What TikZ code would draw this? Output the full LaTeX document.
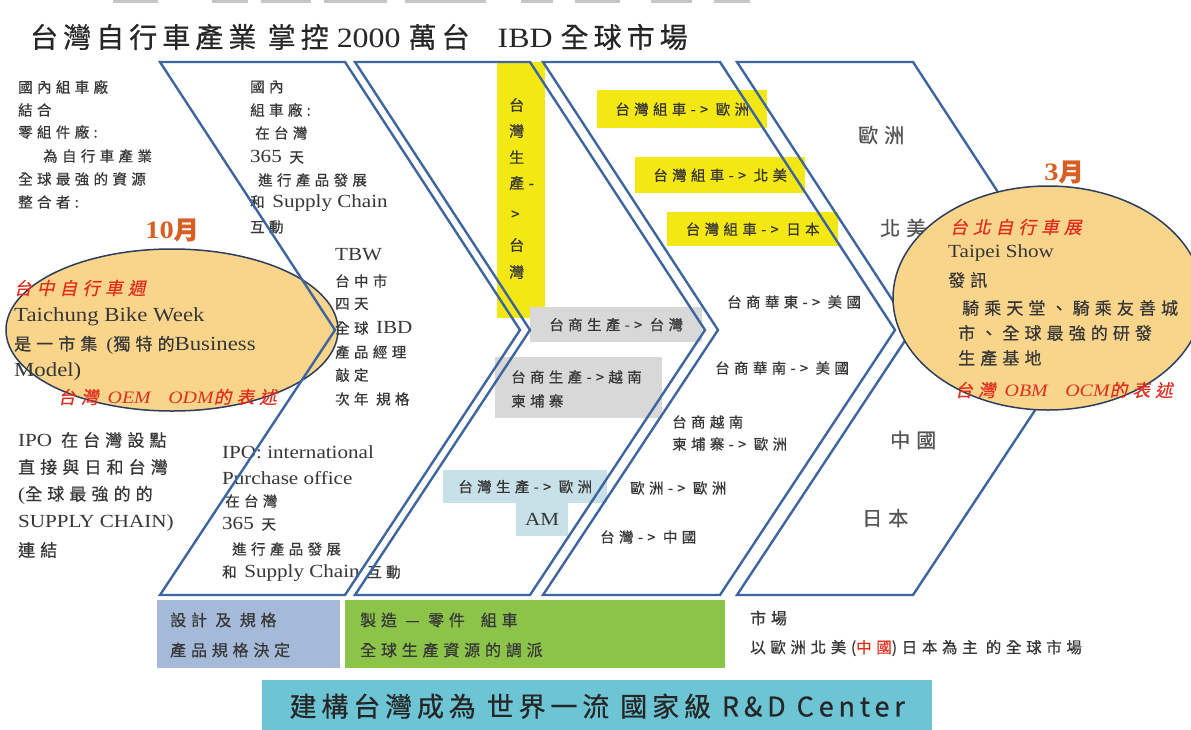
\documentclass[tikz,border=0pt]{standalone}
\usepackage{fontspec}
\usetikzlibrary{shapes.geometric}
\setmainfont{Liberation Serif}[FakeStretch=1.14]
\newfontfamily\cjk{Noto Sans CJK TC}[LetterSpace=30,FakeBold=0.6]
\newfontfamily\cjkt{Noto Sans CJK TC}[LetterSpace=18,FakeBold=0.6]
\newfontfamily\cjkit{Noto Sans CJK TC}[LetterSpace=30,FakeSlant=0.22,FakeBold=0.6]
\newcommand\en[1]{{\rmfamily\fontsize{18.5}{20}\selectfont #1}}
\newcommand\enL[1]{{\rmfamily\fontsize{20}{22}\selectfont #1}}
\definecolor{chev}{RGB}{62,102,158}
\definecolor{ell}{RGB}{249,213,140}
\definecolor{ellb}{RGB}{45,62,92}
\definecolor{ylw}{RGB}{244,232,20}
\definecolor{gry}{RGB}{216,216,216}
\definecolor{lbl}{RGB}{200,224,232}
\definecolor{bbox}{RGB}{165,186,216}
\definecolor{gbox}{RGB}{140,196,74}
\definecolor{tbox}{RGB}{108,196,212}
\definecolor{txt}{RGB}{55,55,55}
\definecolor{txtc}{RGB}{85,85,85}
\definecolor{redt}{RGB}{225,45,30}
\definecolor{org}{RGB}{215,95,35}
\begin{document}
\begin{tikzpicture}[x=1pt,y=-1pt,
  t/.style={anchor=west, inner sep=0pt, text=txt, font=\cjk\fontsize{14.5}{17}\selectfont},
  tm/.style={t, font=\cjk\fontsize{17}{20}\selectfont},
  tc/.style={t, text=txtc, font=\cjk\fontsize{20}{22}\selectfont},
  rt/.style={t, text=redt, font=\cjkit\fontsize{17.5}{20}\selectfont},
  month/.style={inner sep=0pt, text=org, font=\bfseries\fontsize{25}{27}\selectfont},
  rbox/.style={anchor=north west, inner sep=0pt, font=\cjk\fontsize{14.5}{17}\selectfont, text=txt},
  oval/.style={ellipse, draw=ellb, line width=1.5pt, fill=ell, inner sep=0pt},
  chevron/.style={draw=chev, line width=2.4pt, line join=miter, miter limit=10}]
\useasboundingbox (0,0) rectangle (1191,729);
\fill[white] (0,0) rectangle (1191,729);
% remnants at top edge
\foreach \a/\b in {113/158,212/248,261/311,324/387,405/486,521/553,575/620,651/692,714/750}
  \fill[gray!45] (\a,0) rectangle (\b,3);
% title
\node[anchor=west, inner sep=0pt, text=black!85, font=\fontsize{28}{30}\selectfont] (title) at (30,37)
  {{\cjkt 台灣自行車產業 掌控} 2000 {\cjkt 萬台}\quad IBD {\cjkt 全球市場}};

% ---------- boxes (under the chevron lines) ----------
\node[rbox, fill=ylw, minimum width=48pt, minimum height=256pt] (vbox) at (497,62) {};
\foreach \x/\y/\c [count=\i] in {509/105/台, 509/131/灣, 509/157/生, 509/183/產-, 511/215/>, 509/245/台, 509/272/灣}
  \node[t, font=\cjk\fontsize{15}{17}\selectfont] (v\i) at (\x,\y) {\c};
\node[rbox, fill=ylw, minimum width=170pt, minimum height=38pt] (y1) at (597,90) {台灣組車-> 歐洲};
\node[rbox, fill=ylw, minimum width=170pt, minimum height=36pt] (y2) at (635,157) {台灣組車-> 北美};
\node[rbox, fill=ylw, minimum width=171pt, minimum height=34pt] (y3) at (667,212) {台灣組車-> 日本};
\node[rbox, fill=gry, minimum width=172pt, minimum height=35pt] (g1) at (530,307) {台商生產-> 台灣};
\node[rbox, fill=gry, minimum width=167pt, minimum height=61pt] (g2) at (495,357) {};
\node[t] (g2a) at (511,377) {台商生產->越南};
\node[t] (g2b) at (511,401) {柬埔寨};
\node[rbox, fill=lbl, minimum width=164pt, minimum height=33pt] (b1) at (443,470) {台灣生產-> 歐洲};
\node[rbox, fill=lbl, minimum width=52pt, minimum height=34pt] (b2) at (516,502) {\en{AM}};

% ---------- left ellipse ----------
\node[oval, minimum width=332pt, minimum height=162pt] (le) at (172,330) {};
\node[rt] (le1) at (14,288) {台中自行車週};
\node[tm] (le2) at (14,317) {\enL{Taichung Bike Week}};
\node[tm] (le3) at (14,345) {是一市集 \en{(}獨特的\enL{Business}};
\node[tm] (le4) at (14,372) {\enL{Model)}};
\node[rt] (le5) at (58,397) {台灣 {\rmfamily\itshape OEM\quad ODM}的表述};
\node[month] (m10) at (172,230) {10{\cjk\bfseries 月}};

% ---------- plain text blocks ----------
\foreach \x/\y/\s [count=\i] in {18/87/國內組車廠, 18/110/結合, 18/132/零組件廠:, 43/156/為自行車產業, 18/179/全球最強的資源, 18/202/整合者:}
  \node[t] (a\i) at (\x,\y) {\s};
\foreach \x/\y/\s [count=\i] in {250/87/國內, 250/110/組車廠:, 255/133/在台灣, 250/157/\en{365} 天, 258/180/進行產品發展, 250/203/和 \en{Supply Chain}, 250/227/互動}
  \node[t] (bb\i) at (\x,\y) {\s};
\foreach \x/\y/\s [count=\i] in {335/255/\en{TBW}, 335/281/台中市, 335/304/四天, 335/328/全球 \en{IBD}, 335/352/產品經理, 335/375/敲定, 335/399/次年 規格}
  \node[t] (tb\i) at (\x,\y) {\s};
\foreach \x/\y/\s [count=\i] in {18/440/\en{IPO} 在台灣設點, 18/467/直接與日和台灣, 18/495/\en{(}全球最強的的, 18/523/\en{SUPPLY CHAIN)}, 18/550/連結}
  \node[tm] (ip\i) at (\x,\y) {\s};
\foreach \x/\y/\s [count=\i] in {222/452/\en{IPO: international}, 222/478/\en{Purchase office}, 225/501/在台灣, 222/524/\en{365} 天, 232/549/進行產品發展, 222/573/和 \en{Supply Chain} 互動}
  \node[t] (io\i) at (\x,\y) {\s};
\foreach \x/\y/\s [count=\i] in {727/302/台商華東-> 美國, 715/368/台商華南-> 美國, 672/422/台商越南, 672/444/柬埔寨-> 歐洲, 630/488/歐洲-> 歐洲, 600/537/台灣-> 中國}
  \node[t] (c\i) at (\x,\y) {\s};
\foreach \x/\y/\s [count=\i] in {858/135/歐洲, 880/228/北美, 890/440/中國, 862/518/日本}
  \node[tc] (mk\i) at (\x,\y) {\s};

% ---------- chevrons ----------
\draw[chevron] (160,62) -- (345,62) -- (520,330) -- (345,595) -- (160,595) -- (335,330) -- cycle;
\draw[chevron] (355,62) -- (530,62) -- (705,330) -- (530,595) -- (355,595) -- (530,330) -- cycle;
\draw[chevron] (543,62) -- (720,62) -- (895,330) -- (720,595) -- (543,595) -- (718,330) -- cycle;
\draw[chevron] (737,62) -- (913,62) -- (1088,330) -- (913,595) -- (737,595) -- (912,330) -- cycle;

% ---------- right ellipse ----------
\begin{scope}
\clip (0,0) rectangle (1191,729);
\node[oval, minimum width=310pt, minimum height=224pt] (re) at (1048,298) {};
\node[rt] (re1) at (950,227) {台北自行車展};
\node[tm] (re2) at (948,253) {\en{Taipei Show}};
\node[tm] (re3) at (948,280) {發訊};
\node[tm] (re4) at (962,308) {騎乘天堂、騎乘友善城};
\node[tm] (re5) at (958,333) {市、全球最強的研發};
\node[tm] (re6) at (958,358) {生產基地};
\node[rt] (re7) at (955,390) {台灣 {\rmfamily\itshape OBM\quad OCM}的表述};
\end{scope}
\node[month] (m3) at (1064,172) {3{\cjk\bfseries 月}};

% ---------- bottom row ----------
\node[rbox, fill=bbox, minimum width=183pt, minimum height=68pt] (design) at (157,600) {};
\node[tm, font=\cjk\fontsize{16}{18}\selectfont] (d1) at (170,620) {設計 及 規格};
\node[tm, font=\cjk\fontsize{16}{18}\selectfont] (d2) at (170,650) {產品規格決定};
\node[rbox, fill=gbox, minimum width=380pt, minimum height=68pt] (make) at (345,600) {};
\node[tm, font=\cjk\fontsize{16}{18}\selectfont] (mf1) at (360,620) {製造 — 零件\quad 組車};
\node[tm, font=\cjk\fontsize{16}{18}\selectfont] (mf2) at (360,650) {全球生產資源的調派};
\node[tm, font=\cjk\fontsize{16}{18}\selectfont] (mkt1) at (750,618) {市場};
\node[tm, font=\cjk\fontsize{15.5}{18}\selectfont] (mkt2) at (750,648) {以歐洲北美(\textcolor{redt}{中國})日本為主 的全球市場};
\node[rbox, fill=tbox, minimum width=670pt, minimum height=52pt, font=\cjkt\fontsize{27}{30}\selectfont, text=black!85] (rd) at (262,680) {建構台灣成為 世界一流 國家級 R\&D Center};
\end{tikzpicture}
\end{document}
